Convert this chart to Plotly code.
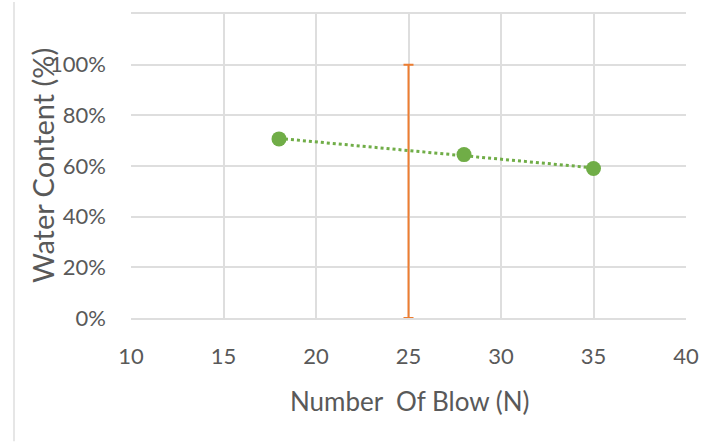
import numpy as np
import plotly.graph_objects as go

# Data
blows = [18, 28, 35]
water_content = [0.707, 0.645, 0.590]

ll_blow = [25]
ll_mid = [0.5]
ll_half = [0.5]

x_ticks = [10, 15, 20, 25, 30, 35, 40]
y_ticks = [0, 0.2, 0.4, 0.6, 0.8, 1.0, 1.2]
y_tick_text = ["0%", "20%", "40%", "60%", "80%", "100%", ""]

# Linear trendline (as Excel computes it)
slope, intercept = np.polyfit(blows, water_content, 1)
trend_x = [min(blows), max(blows)]
trend_y = [slope * v + intercept for v in trend_x]

FONT = "Lato"
GREY = "#595959"
GREEN = "#70AD47"
ORANGE = "#ED7D31"
GRID = "#DEDEDE"

fig = go.Figure()

fig.add_trace(go.Scatter(
    x=ll_blow, y=ll_mid, mode="markers",
    marker=dict(size=1, color="rgba(0,0,0,0)"),
    error_y=dict(type="data", array=ll_half, symmetric=True,
                 color=ORANGE, thickness=2, width=5),
    showlegend=False, hoverinfo="skip",
))

fig.add_trace(go.Scatter(
    x=trend_x, y=trend_y, mode="lines",
    line=dict(color=GREEN, width=3, dash="dot"),
    showlegend=False,
))

fig.add_trace(go.Scatter(
    x=blows, y=water_content, mode="markers",
    marker=dict(size=15, color=GREEN),
    showlegend=False,
))

L, R, T, B = 131, 26, 12, 124
W, H = 712, 442
pw = W - L - R
ph = H - T - B

fig.update_layout(
    width=W, height=H,
    margin=dict(l=L, r=R, t=T, b=B),
    paper_bgcolor="white", plot_bgcolor="white",
    font=dict(family=FONT, color=GREY, size=21),
    xaxis=dict(range=[10, 40], tickvals=x_ticks,
               showgrid=True, gridcolor=GRID, gridwidth=1.5,
               zeroline=False, showline=True, mirror=True,
               linecolor=GRID, linewidth=1.5,
               ticks="", ticklabelstandoff=18,
               tickfont=dict(family=FONT, size=22, color=GREY)),
    yaxis=dict(range=[0, 1.2], tickvals=y_ticks, ticktext=y_tick_text,
               showgrid=True, gridcolor=GRID, gridwidth=1.5,
               zeroline=False, showline=False,
               ticks="", ticklabelstandoff=24,
               tickfont=dict(family=FONT, size=22, color=GREY)),
    annotations=[
        dict(text="Number  Of Blow (N)", xref="paper", yref="paper",
             x=(410 - L) / pw, y=-(402 - (T + ph)) / ph,
             showarrow=False, xanchor="center", yanchor="middle",
             font=dict(family=FONT, size=26, color=GREY)),
        dict(text="Water Content (%)", xref="paper", yref="paper",
             x=(42 - L) / pw, y=0.5, textangle=-90,
             showarrow=False, xanchor="center", yanchor="middle",
             font=dict(family=FONT, size=29, color=GREY)),
    ],
    shapes=[
        dict(type="line", xref="paper", yref="paper",
             x0=(14 - L) / pw, x1=(14 - L) / pw,
             y0=-(H - T - ph) / ph, y1=1 + T / ph,
             line=dict(color=GRID, width=1.5)),
    ],
)

fig.write_html("out.html", config={"displayModeBar": False},
               post_script="document.body.style.margin='0px';")
